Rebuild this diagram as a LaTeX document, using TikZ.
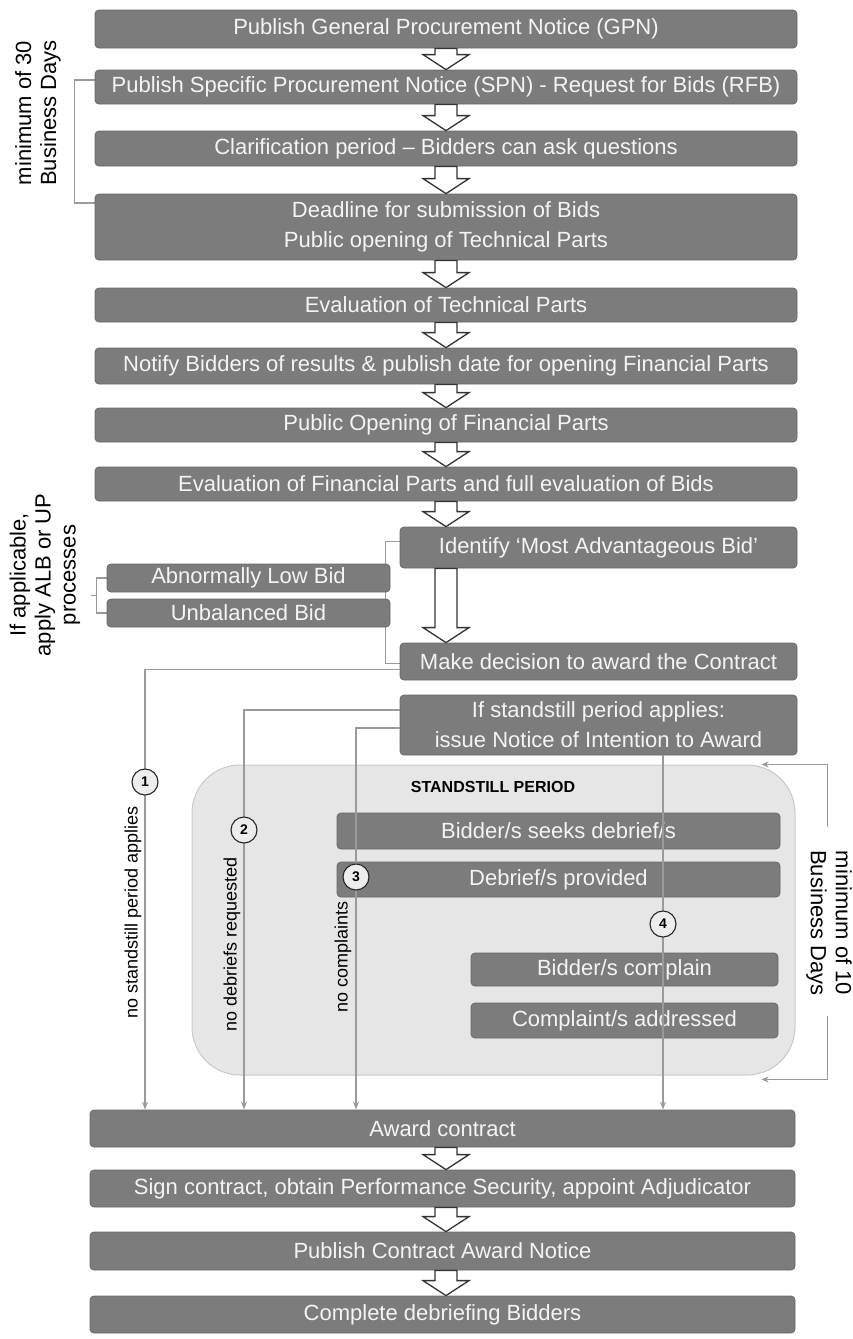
\documentclass[tikz,border=0pt]{standalone}
\usepackage{fontspec}
\setmainfont{Liberation Sans}
\usetikzlibrary{arrows.meta, calc, backgrounds}

\definecolor{boxgray}{HTML}{7C7C7C}
\definecolor{boxedge}{HTML}{686868}
\definecolor{boxtext}{HTML}{F4F4F4}
\definecolor{regionfill}{HTML}{E6E6E6}
\definecolor{regionedge}{HTML}{C9C9C9}
\definecolor{linegray}{HTML}{9A9A9A}

\tikzset{
  stepbox/.style={rectangle, rounded corners=4pt, fill=boxgray, draw=boxedge,
    line width=0.8pt, text=boxtext, minimum width=702pt, minimum height=36pt,
    inner sep=2pt, align=center, font=\fontsize{22}{30}\selectfont},
  ssregion/.style={rectangle, rounded corners=48pt, fill=regionfill, draw=regionedge,
    line width=1pt, minimum width=603pt, minimum height=310pt},
  blockarr/.style={fill=white, draw=black!80, line width=1.3pt, line join=miter},
  flow/.style={draw=linegray, line width=1.2pt, -{Stealth[length=8pt,width=6pt]}},
  bracket/.style={draw=linegray, line width=1.2pt},
  numcirc/.style={circle, draw=black!85, line width=1.1pt, fill=white!93!black,
    minimum size=26pt, inner sep=0pt, font=\fontsize{14}{14}\selectfont\bfseries},
  sidetext/.style={align=center, font=\fontsize{22}{25}\selectfont},
  pathtext/.style={font=\fontsize{18}{20}\selectfont, rotate=90}
}

% hollow block arrow between two boxes
\newcommand{\blockarrow}[2]{%
  \filldraw[blockarr] let \p1=(#1.south -| axis), \p2=(#2.north -| axis) in
    (\x1-11pt,\y1) -- (\x1+11pt,\y1) -- (\x1+11pt,\y2+15pt) -- (\x1+23pt,\y2+15pt)
    -- (\x1,\y2) -- (\x1-23pt,\y2+15pt) -- (\x1-11pt,\y2+15pt) -- cycle;}

\begin{document}
\begin{tikzpicture}[x=1pt, y=-1pt]
  \useasboundingbox (0,0) rectangle (853,1339);
  \coordinate (axis) at (446,0);

  % standstill period
  \node[ssregion] (standstill) at (493.5,920) {};
  \node[font=\fontsize{16}{16}\selectfont\bfseries] (sstitle) at (493,787) {STANDSTILL PERIOD};

  % main sequence
  \node[stepbox, minimum height=38pt] (gpn) at (446,29) {Publish General Procurement Notice (GPN)};
  \node[stepbox, minimum height=34pt] (spn) at (446,87) {Publish Specific Procurement Notice (SPN) - Request for Bids (RFB)};
  \node[stepbox, minimum height=35pt] (clar) at (446,148.5) {Clarification period -- Bidders can ask questions};
  \node[stepbox, minimum height=66pt] (deadline) at (446,227) {Deadline for submission of Bids\\Public opening of Technical Parts};
  \node[stepbox, minimum height=34pt] (evaltech) at (446,305) {Evaluation of Technical Parts};
  \node[stepbox] (notify) at (446,366) {Notify Bidders of results \& publish date for opening Financial Parts};
  \node[stepbox, minimum height=34pt] (pubopen) at (446,425) {Public Opening of Financial Parts};
  \node[stepbox, minimum height=34pt] (evalfin) at (446,484) {Evaluation of Financial Parts and full evaluation of Bids};

  \node[stepbox, minimum width=397pt, minimum height=41pt] (identify) at (598.5,547.5) {Identify `Most Advantageous Bid'};
  \node[stepbox, minimum width=283pt, minimum height=28pt] (alb) at (248.5,578) {Abnormally Low Bid};
  \node[stepbox, minimum width=283pt, minimum height=28pt] (ub) at (248.5,613) {Unbalanced Bid};
  \node[stepbox, minimum width=397pt, minimum height=37pt] (decide) at (598.5,661.5) {Make decision to award the Contract};
  \node[stepbox, minimum width=397pt, minimum height=60pt] (notice) at (598.5,725) {If standstill period applies:\\issue Notice of Intention to Award};

  \node[stepbox, minimum width=443pt] (seek) at (558.5,831) {Bidder/s seeks debrief/s};
  \node[stepbox, minimum width=443pt, minimum height=35pt] (provided) at (558.5,879.5) {Debrief/s provided};
  \node[stepbox, minimum width=307pt, minimum height=33pt] (complain) at (624.5,969.5) {Bidder/s complain};
  \node[stepbox, minimum width=307pt, minimum height=35pt] (addressed) at (624.5,1020.5) {Complaint/s addressed};

  \node[stepbox, minimum width=705pt, minimum height=37pt] (award) at (442.5,1128.5) {Award contract};
  \node[stepbox, minimum width=705pt, minimum height=37pt] (sign) at (442.5,1188.5) {Sign contract, obtain Performance Security, appoint Adjudicator};
  \node[stepbox, minimum width=705pt, minimum height=38pt] (publish) at (442.5,1251) {Publish Contract Award Notice};
  \node[stepbox, minimum width=705pt, minimum height=37pt] (complete) at (442.5,1314.5) {Complete debriefing Bidders};

  \foreach \a/\b in {gpn/spn, spn/clar, clar/deadline, deadline/evaltech, evaltech/notify,
      notify/pubopen, pubopen/evalfin, evalfin/identify, identify/decide,
      award/sign, sign/publish, publish/complete}
    \blockarrow{\a}{\b};

  % brackets
  \begin{scope}[on background layer]
    \draw[bracket] ([yshift=7pt]spn.west) -- ++(-20,0) |- ([yshift=24pt]deadline.west);
    \draw[bracket] ([yshift=6pt]identify.west) -- ++(-14,0) |- ([yshift=-2pt]decide.west);
    \draw[bracket] (alb.west) -- ++(-10,0) |- (ub.west);
    \draw[bracket] ($(alb.west)!0.5!(ub.west)+(-10,0)$) -- ++(-6,0);
    \draw[bracket, {Stealth[length=7pt,width=6pt]}-] ([xshift=-34pt]standstill.north east) -- ++(66,0) -- ++(0,62);
    \draw[bracket, {Stealth[length=7pt,width=6pt]}-] ([xshift=-34pt,yshift=-4pt]standstill.south east) -- ++(66,0) -- ++(0,-64);
  \end{scope}
  \node[sidetext, rotate=90] (days30) at (38,113) {minimum of 30\\Business Days};
  \node[sidetext, rotate=90] (albnote) at (45,575) {If applicable,\\apply ALB or UP\\processes};
  \node[sidetext, rotate=-90] (days10) at (829,923) {minimum of 10\\Business Days};

  % routes to award
  \coordinate (x1) at (145,0);
  \coordinate (x2) at (244,0);
  \coordinate (x3) at (356,0);
  \coordinate (x4) at (663,0);
  \draw[flow] ([yshift=-8pt]decide.west) -| (award.north -| x1);
  \draw[flow] ([yshift=15pt]notice.west) -| (award.north -| x2);
  \draw[flow] ([yshift=-3pt]notice.west) -| (award.north -| x3);
  \draw[flow] (notice.south -| x4) -- (award.north -| x4);

  \node[numcirc] (n1) at (145,782) {1};
  \node[numcirc] (n2) at (244,830) {2};
  \node[numcirc] (n3) at (356,877) {3};
  \node[numcirc] (n4) at (663,924) {4};

  \node[pathtext] (lbl1) at (133,912) {no standstill period applies};
  \node[pathtext] (lbl2) at (232,944) {no debriefs requested};
  \node[pathtext] (lbl3) at (343,957) {no complaints};
\end{tikzpicture}
\end{document}
